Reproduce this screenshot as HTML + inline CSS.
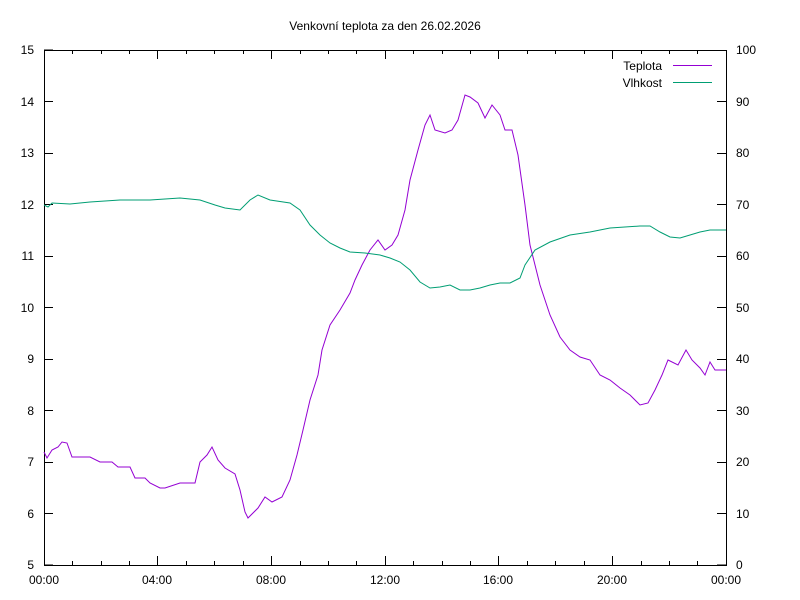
<!DOCTYPE html>
<html><head><meta charset="utf-8"><style>body{margin:0;background:#fff}svg{display:block}text{font-family:"Liberation Sans",sans-serif;font-size:12px;fill:#000}</style></head><body>
<svg width="800" height="600" viewBox="0 0 800 600">
<text x="385" y="30" text-anchor="middle">Venkovní teplota za den 26.02.2026</text>
<rect x="44.5" y="50.5" width="682" height="515" fill="none" stroke="#000"/>
<g stroke="#000" id="t">
<path d="M44 565h9M44 50h9M44 513.5h9M44 462.5h9M44 410.5h9M44 359.5h9M44 307.5h9M44 256.5h9M44 204.5h9M44 153.5h9M44 101.5h9"/>
<path d="M726 565h-9M726 513.5h-9M726 462.5h-9M726 410.5h-9M726 359.5h-9M726 307.5h-9M726 256.5h-9M726 204.5h-9M726 153.5h-9M726 101.5h-9"/>
<path d="M157.5 565v-9M157.5 50v9M271.5 565v-9M271.5 50v9M385.5 565v-9M385.5 50v9M498.5 565v-9M498.5 50v9M612.5 565v-9M612.5 50v9"/>
<path d="M72.5 565v-4M72.5 50v4M101.5 565v-4M101.5 50v4M129.5 565v-4M129.5 50v4M186.5 565v-4M186.5 50v4M214.5 565v-4M214.5 50v4M243.5 565v-4M243.5 50v4M300.5 565v-4M300.5 50v4M328.5 565v-4M328.5 50v4M356.5 565v-4M356.5 50v4M413.5 565v-4M413.5 50v4M442.5 565v-4M442.5 50v4M470.5 565v-4M470.5 50v4M527.5 565v-4M527.5 50v4M555.5 565v-4M555.5 50v4M584.5 565v-4M584.5 50v4M641.5 565v-4M641.5 50v4M669.5 565v-4M669.5 50v4M697.5 565v-4M697.5 50v4"/>
</g>
<g text-anchor="end">
<text x="34" y="569">5</text><text x="34" y="518">6</text><text x="34" y="466">7</text><text x="34" y="415">8</text><text x="34" y="363">9</text><text x="34" y="312">10</text><text x="34" y="260">11</text><text x="34" y="209">12</text><text x="34" y="157">13</text><text x="34" y="106">14</text><text x="34" y="54">15</text>
</g>
<g>
<text x="736" y="569">0</text><text x="736" y="518">10</text><text x="736" y="466">20</text><text x="736" y="415">30</text><text x="736" y="363">40</text><text x="736" y="312">50</text><text x="736" y="260">60</text><text x="736" y="209">70</text><text x="736" y="157">80</text><text x="736" y="106">90</text><text x="736" y="54">100</text>
</g>
<g text-anchor="middle">
<text x="44" y="584">00:00</text><text x="157" y="584">04:00</text><text x="271" y="584">08:00</text><text x="385" y="584">12:00</text><text x="498" y="584">16:00</text><text x="612" y="584">20:00</text><text x="726" y="584">00:00</text>
</g>
<text x="662" y="70" text-anchor="end">Teplota</text>
<line x1="673" y1="65.5" x2="712" y2="65.5" stroke="#9400d3"/>
<text x="662" y="87" text-anchor="end">Vlhkost</text>
<line x1="673" y1="82.5" x2="712" y2="82.5" stroke="#009e73"/>
<polyline fill="none" stroke="#9400d3" stroke-width="1" points="44,452 47,458 52,450 58,447 62,442 67,443 72,457 90,457 100,462 112,462 118,467 130,467 135,478 145,478 150,483 160,488 165,488 180,483 195,483 200,462 207,455 212,447 218,460 225,468 235,474 240,490 245,512 248,518 258,508 265,497 272,502 282,497 290,480 297,455 303,430 310,400 318,375 322,350 330,325 340,310 350,293 355,280 362,265 370,250 378,240 385,250 392,245 398,235 405,210 410,180 418,150 425,125 430,115 435,130 445,133 452,130 458,120 465,95 470,97 478,103 485,118 492,105 500,115 505,130 512,130 518,155 525,205 530,245 540,285 550,315 560,337 570,350 580,357 590,360 600,375 610,380 620,388 630,395 640,405 648,403 655,390 662,375 668,360 678,365 686,350 692,360 700,368 705,375 710,362 715,370 726,370"/>
<polyline fill="none" stroke="#009e73" stroke-width="1" points="44,205 48,207 52,203 70,204 90,202 120,200 150,200 180,198 200,200 215,205 225,208 240,210 250,200 258,195 270,200 290,203 300,210 310,225 320,235 330,243 340,248 350,252 365,253 380,255 390,258 400,262 410,270 420,282 430,288 440,287 450,285 460,290 470,290 480,288 490,285 500,283 510,283 520,278 525,265 535,250 550,242 570,235 590,232 610,228 640,226 650,226 660,232 670,237 680,238 690,235 700,232 710,230 726,230"/>
</svg>
</body></html>
